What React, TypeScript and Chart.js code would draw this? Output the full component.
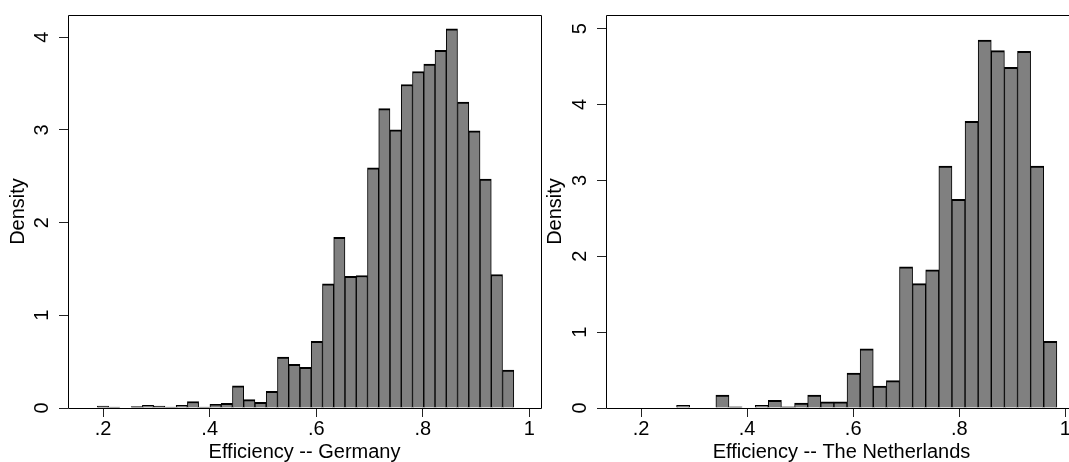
import React, { useEffect, useRef } from "react";
import { Chart, registerables } from "chart.js";

Chart.register(...registerables);

// ---- Data ----
// Germany: 38 histogram bins (bin centres on the efficiency axis)
const germanyBinCenters = [
  0.1786, 0.1997, 0.2208, 0.242, 0.2631, 0.2842, 0.3054, 0.3265, 0.3476, 0.3687,
  0.3899, 0.411, 0.4321, 0.4533, 0.4744, 0.4955, 0.5167, 0.5378, 0.5589, 0.58,
  0.6012, 0.6223, 0.6434, 0.6646, 0.6857, 0.7068, 0.7279, 0.7491, 0.7702, 0.7913,
  0.8125, 0.8336, 0.8547, 0.8759, 0.897, 0.9181, 0.9392, 0.9604,
];
const germanyDensity = [
  0.005, 0.02, 0.01, 0.005, 0.015, 0.03, 0.02, 0.01, 0.03, 0.07,
  0.01, 0.04, 0.05, 0.24, 0.09, 0.06, 0.18, 0.55, 0.47, 0.44,
  0.72, 1.34, 1.84, 1.42, 1.43, 2.59, 3.23, 3.0, 3.49, 3.63,
  3.71, 3.86, 4.09, 3.3, 2.99, 2.47, 1.44, 0.41,
];

// The Netherlands: 29 histogram bins
const netherlandsBinCenters = [
  0.2794, 0.3041, 0.3288, 0.3535, 0.3783, 0.403, 0.4277, 0.4524, 0.4772, 0.5019,
  0.5266, 0.5513, 0.5761, 0.6008, 0.6255, 0.6502, 0.675, 0.6997, 0.7244, 0.7491,
  0.7739, 0.7986, 0.8233, 0.848, 0.8728, 0.8975, 0.9222, 0.9469, 0.9717,
];
const netherlandsDensity = [
  0.035, 0, 0, 0.17, 0.015, 0, 0.035, 0.1, 0.015, 0.065,
  0.17, 0.08, 0.08, 0.46, 0.78, 0.29, 0.36, 1.86, 1.64, 1.82,
  3.19, 2.75, 3.78, 4.85, 4.71, 4.49, 4.7, 3.19, 0.88,
];

const xTickValues = [0.2, 0.4, 0.6, 0.8, 1.0];
const xTickLabels = [".2", ".4", ".6", ".8", "1"];
const germanyYTicks = [0, 1, 2, 3, 4];
const netherlandsYTicks = [0, 1, 2, 3, 4, 5];

const X_MIN = 0.134;
const X_MAX = 1.022;
const GERMANY_Y_MAX = 4.24;
const NETHERLANDS_Y_MAX = 5.18;

const FONT = "'Liberation Sans', Arial, Helvetica, sans-serif";

const framePlugin = {
  id: "stataFrame",
  afterDatasetsDraw(chart: any) {
    const { ctx, chartArea } = chart;
    const l = Math.round(chartArea.left) + 0.5;
    const r = Math.round(chartArea.right) + 0.5;
    const t = Math.round(chartArea.top) + 0.5;
    const b = Math.round(chartArea.bottom) + 0.5;
    ctx.save();
    ctx.strokeStyle = "#000";
    ctx.lineWidth = 1;
    ctx.beginPath();
    ctx.moveTo(l, b);
    ctx.lineTo(l, t);
    ctx.lineTo(r, t);
    ctx.lineTo(r, b);
    ctx.lineTo(l, b);
    ctx.stroke();
    ctx.restore();
  },
};

function zeroScalePadding(scale: any) {
  scale.paddingTop = 0;
  scale.paddingBottom = 0;
  scale.paddingLeft = 0;
  scale.paddingRight = 0;
}

function makeConfig(
  centers: number[],
  values: number[],
  yTicks: number[],
  yMax: number,
  xTitle: string,
  yAxisWidth: number
): any {
  return {
    type: "bar",
    data: {
      datasets: [
        {
          data: centers.map((c, i) => ({ x: c, y: values[i] })),
          backgroundColor: "#808080",
          borderColor: "#000000",
          borderWidth: { top: 2, left: 1, right: 1, bottom: 0 },
          barPercentage: 1,
          categoryPercentage: 1,
          borderSkipped: "start",
        },
      ],
    },
    options: {
      responsive: false,
      animation: false,
      devicePixelRatio: 1,
      layout: { padding: { top: 15, right: 4, left: 0, bottom: 0 } },
      plugins: {
        legend: { display: false },
        tooltip: { enabled: false },
      },
      scales: {
        x: {
          type: "linear",
          min: X_MIN,
          max: X_MAX,
          offset: false,
          afterFit: (scale: any) => {
            scale.height = 54;
            zeroScalePadding(scale);
          },
          afterBuildTicks: (scale: any) => {
            scale.ticks = xTickValues.map((v) => ({ value: v }));
          },
          grid: {
            display: true,
            offset: false,
            drawOnChartArea: false,
            drawTicks: true,
            tickLength: 9,
            tickColor: "#222",
            tickWidth: 1,
          },
          border: { display: false },
          ticks: {
            autoSkip: false,
            maxRotation: 0,
            minRotation: 0,
            padding: 2,
            color: "#000",
            font: { family: FONT, size: 20, lineHeight: 1 },
            callback: (_v: any, i: number) => xTickLabels[i],
          },
          title: {
            display: true,
            text: xTitle,
            color: "#000",
            font: { family: FONT, size: 20, lineHeight: 1 },
            padding: { top: 0, bottom: 0 },
          },
        },
        y: {
          type: "linear",
          min: 0,
          max: yMax,
          afterFit: (scale: any) => {
            scale.width = yAxisWidth;
            zeroScalePadding(scale);
          },
          afterBuildTicks: (scale: any) => {
            scale.ticks = yTicks.map((v) => ({ value: v }));
          },
          grid: {
            display: true,
            drawOnChartArea: false,
            drawTicks: true,
            tickLength: 9,
            tickColor: "#222",
            tickWidth: 1,
          },
          border: { display: false },
          ticks: {
            autoSkip: false,
            minRotation: 90,
            maxRotation: 90,
            crossAlign: "center",
            padding: 11,
            color: "#000",
            font: { family: FONT, size: 20, lineHeight: 1 },
            callback: (v: any) => String(v),
          },
          title: {
            display: true,
            text: "Density",
            color: "#000",
            font: { family: FONT, size: 20, lineHeight: 1 },
            padding: { top: 8, bottom: 0 },
          },
        },
      },
    },
    plugins: [framePlugin],
  };
}

function HistogramPanel(props: {
  left: number;
  width: number;
  centers: number[];
  values: number[];
  yTicks: number[];
  yMax: number;
  xTitle: string;
  yAxisWidth: number;
}) {
  const ref = useRef<HTMLCanvasElement | null>(null);
  useEffect(() => {
    if (!ref.current) return;
    const chart = new Chart(
      ref.current,
      makeConfig(props.centers, props.values, props.yTicks, props.yMax, props.xTitle, props.yAxisWidth)
    );
    return () => chart.destroy();
  }, []);
  return (
    <canvas
      ref={ref}
      width={props.width}
      height={462}
      style={{ position: "absolute", left: props.left, top: 0, width: props.width, height: 462 }}
    />
  );
}

export default function App() {
  return (
    <div
      style={{
        position: "fixed",
        left: 0,
        top: 0,
        width: 1069,
        height: 462,
        overflow: "hidden",
        background: "#ffffff",
      }}
    >
      <HistogramPanel
        left={0}
        width={545}
        centers={germanyBinCenters}
        values={germanyDensity}
        yTicks={germanyYTicks}
        yMax={GERMANY_Y_MAX}
        xTitle="Efficiency -- Germany"
        yAxisWidth={68}
      />
      <HistogramPanel
        left={537}
        width={544}
        centers={netherlandsBinCenters}
        values={netherlandsDensity}
        yTicks={netherlandsYTicks}
        yMax={NETHERLANDS_Y_MAX}
        xTitle="Efficiency -- The Netherlands"
        yAxisWidth={69}
      />
    </div>
  );
}
